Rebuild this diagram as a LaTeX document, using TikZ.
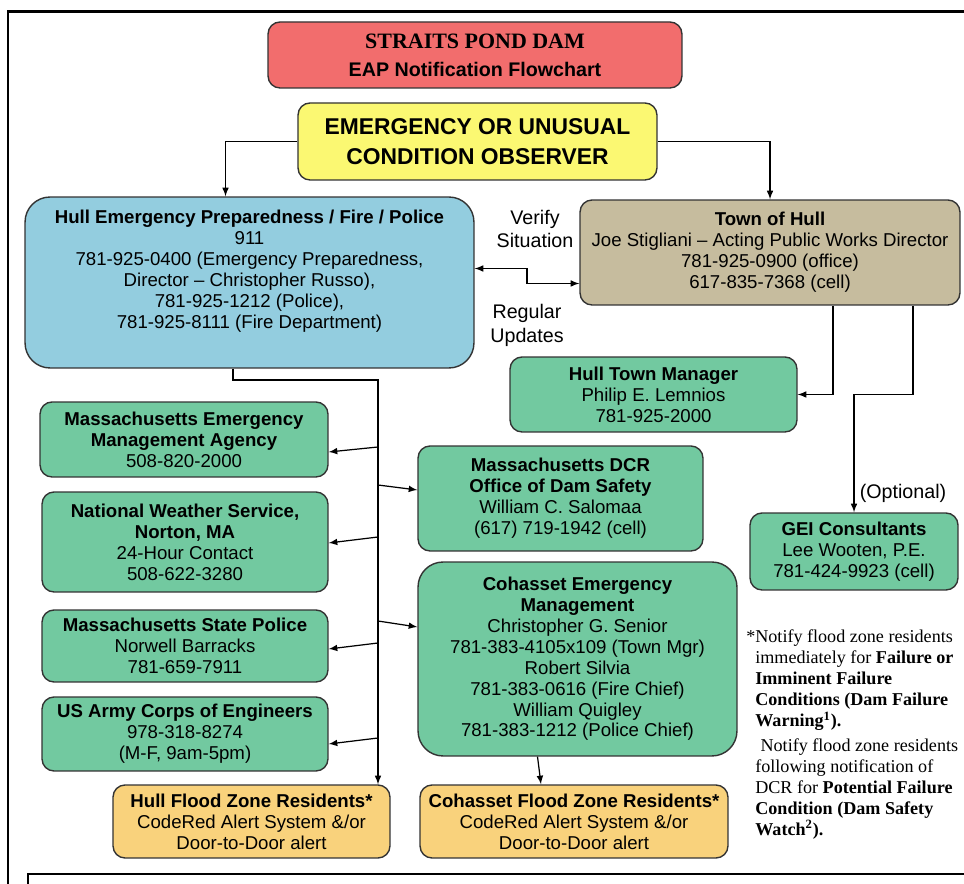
\documentclass[tikz,border=0pt]{standalone}
\usepackage{fontspec}
\setmainfont{Liberation Sans}
\newfontfamily\notefont{Liberation Serif}
\usepackage{xcolor}
\usetikzlibrary{arrows}
\usetikzlibrary{calc}
\definecolor{titlered}{HTML}{F26D6D}
\definecolor{obsyellow}{HTML}{FBF872}
\definecolor{hullblue}{HTML}{93CDDF}
\definecolor{townbrown}{HTML}{C6BC9E}
\definecolor{mgreen}{HTML}{72C9A0}
\definecolor{resorange}{HTML}{F9D27C}
\definecolor{boxline}{HTML}{333333}

\begin{document}
\begin{tikzpicture}[x=0.02cm, y=-0.02cm,
	box/.style={draw=boxline, line width=0.8pt, rounded corners=0.24cm, align=center, inner sep=1pt, font=\fontsize{10.6}{11.9}\selectfont},
	greenbox/.style={box, fill=mgreen},
	resbox/.style={box, fill=resorange},
	link/.style={-latex, line width=0.7pt},
	tag/.style={align=center, inner sep=0pt, font=\fontsize{11.2}{13.6}\selectfont}]
		\useasboundingbox (0,0) rectangle (964,884);
		%
		%frame
		\draw[line width=1.7pt] (8,884) -- (8,12) -- (964,12);
		\draw[line width=1.7pt] (28,884) -- (28,874) -- (964,874);
		%
		%title
		\node (title) [box, fill=titlered, minimum width=8.28cm, minimum height=1.32cm, font=\fontsize{11.2}{16}\selectfont] at (475,55)
			{{\notefont\fontsize{12.5}{16}\selectfont\bfseries STRAITS POND DAM}\\ \textbf{EAP Notification Flowchart}};
		%
		%observer
		\node (observer) [box, fill=obsyellow, minimum width=7.18cm, minimum height=1.54cm, font=\fontsize{13}{17}\selectfont\bfseries] at (477.5,141.5)
			{EMERGENCY OR UNUSUAL\\ CONDITION OBSERVER};
		%
		%Hull emergency preparedness
		\node (hullep) [box, fill=hullblue, rounded corners=0.5cm, minimum width=8.98cm, minimum height=3.42cm] at (249.5,282.5)
			{\textbf{Hull Emergency Preparedness / Fire / Police}\\ 911\\ 781-925-0400 (Emergency Preparedness,\\ Director -- Christopher Russo),\\ 781-925-1212 (Police),\\ 781-925-8111 (Fire Department)\\[0.6ex]};
		%
		%Town of Hull
		\node (townhull) [box, fill=townbrown, minimum width=7.6cm, minimum height=2.1cm] at (770,252.5)
			{\textbf{Town of Hull}\\ Joe Stigliani -- Acting Public Works Director\\ 781-925-0900 (office)\\ 617-835-7368 (cell)};
		%
		%town manager
		\node (manager) [greenbox, minimum width=5.74cm, minimum height=1.5cm] at (653.5,394.5)
			{\textbf{Hull Town Manager}\\ Philip E. Lemnios\\ 781-925-2000};
		%
		%left column
		\node (mema) [greenbox, minimum width=5.76cm, minimum height=1.5cm] at (184,439.5)
			{\textbf{Massachusetts Emergency}\\ \textbf{Management Agency}\\ 508-820-2000};
		\node (nws) [greenbox, minimum width=5.72cm, minimum height=2.0cm] at (185,542)
			{\textbf{National Weather Service,}\\ \textbf{Norton, MA}\\ 24-Hour Contact\\ 508-622-3280};
		\node (msp) [greenbox, minimum width=5.72cm, minimum height=1.44cm] at (185,646)
			{\textbf{Massachusetts State Police}\\ Norwell Barracks\\ 781-659-7911};
		\node (usace) [greenbox, minimum width=5.72cm, minimum height=1.48cm] at (185,734)
			{\textbf{US Army Corps of Engineers}\\ 978-318-8274\\ (M-F, 9am-5pm)};
		\node (hullres) [resbox, minimum width=5.54cm, minimum height=1.46cm] at (251.5,821.5)
			{\textbf{Hull Flood Zone Residents*}\\ CodeRed Alert System \&/or\\ Door-to-Door alert};
		%
		%middle column
		\node (dcr) [greenbox, minimum width=5.7cm, minimum height=2.1cm] at (560.5,498.5)
			{\textbf{Massachusetts DCR}\\ \textbf{Office of Dam Safety}\\ William C. Salomaa\\ (617) 719-1942 (cell)};
		\node (cohem) [greenbox, rounded corners=0.5cm, minimum width=6.38cm, minimum height=3.88cm] at (577.5,659)
			{\textbf{Cohasset Emergency}\\ \textbf{Management}\\ Christopher G. Senior\\ 781-383-4105x109 (Town Mgr)\\ Robert Silvia\\ 781-383-0616 (Fire Chief)\\ William Quigley\\ 781-383-1212 (Police Chief)};
		\node (cohres) [resbox, minimum width=6.16cm, minimum height=1.46cm] at (574,821.5)
			{\textbf{Cohasset Flood Zone Residents*}\\ CodeRed Alert System \&/or\\ Door-to-Door alert};
		%
		%consultant
		\node (gei) [greenbox, minimum width=4.16cm, minimum height=1.54cm] at (854,551.5)
			{\textbf{GEI Consultants}\\ Lee Wooten, P.E.\\ 781-424-9923 (cell)};
		%
		%labels
		\node (verify) [tag] at (535,229) {Verify\\ Situation};
		\node (updates) [tag] at (527,325) {Regular\\ Updates};
		\node (optional) [tag] at (903,493) {(Optional)};
		%
		%footnote
		\node (note) [anchor=north west, align=left, inner sep=0pt, font=\notefont\fontsize{10.3}{12}\selectfont] at (755,629)
			{\llap{*}Notify flood zone residents\\
			immediately for \textbf{Failure or}\\
			\textbf{Imminent Failure}\\
			\textbf{Conditions (Dam Failure}\\
			\textbf{Warning\textsuperscript{1}).}\\[2pt]
			\hspace{3pt}Notify flood zone residents\\
			following notification of\\
			DCR for \textbf{Potential Failure}\\
			\textbf{Condition (Dam Safety}\\
			\textbf{Watch\textsuperscript{2}).}};
		%
		%observer arrows
		\draw[link] (observer.west) -| ([xshift=-0.48cm]hullep.north);
		\draw[link] (observer.east) -| (townhull.north);
		%
		%verify / updates
		\coordinate (bend) at (527,276);
		\draw[latex-latex, line width=0.7pt] ([yshift=0.28cm]hullep.east) -| (bend) |- ([yshift=-0.62cm]townhull.west);
		%
		%Town of Hull arrows
		\draw[link] ([xshift=1.26cm]townhull.south) |- (manager.east);
		\draw[link] ([xshift=2.86cm]townhull.south) -- ++(0,89) -| (gei.north);
		%
		%trunk
		\coordinate (trunk) at (378,380);
		\draw[link] ([xshift=-0.33cm]hullep.south) |- (trunk) -- (trunk |- hullres.north);
		\draw[link] ($(trunk |- mema.east)+(0,7.5)$) -- ($(mema.east)+(0,12.5)$);
		\draw[link] ($(trunk |- dcr.west)+(0,-13.5)$) -- ($(dcr.west)+(0,-8.5)$);
		\draw[link] ($(trunk |- nws.east)+(0,-5)$) -- ($(nws.east)+(0,1)$);
		\draw[link] ($(trunk |- cohem.west)+(0,-38)$) -- ($(cohem.west)+(0,-32)$);
		\draw[link] ($(trunk |- msp.east)+(0,-3)$) -- ($(msp.east)+(0,3)$);
		\draw[link] ($(trunk |- usace.east)+(0,4)$) -- ($(usace.east)+(0,10)$);
		\draw[link] ([xshift=-0.8cm]cohem.south) -- ([xshift=-0.66cm]cohres.north);
	\end{tikzpicture}
\end{document}
